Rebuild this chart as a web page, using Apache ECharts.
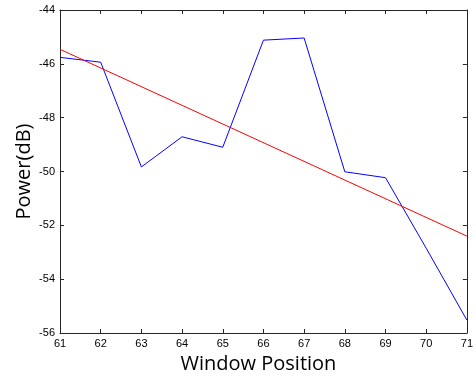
<!DOCTYPE html>
<html lang="en">

<head>
    <meta charset="UTF-8">
    <title>Power vs Window Position</title>
    <style>
        html, body { margin: 0; padding: 0; background: #fff; }
        .box { width: 476px; height: 380px; }
    </style>
    <script src="https://cdn.jsdelivr.net/npm/echarts@6/dist/echarts.min.js"></script>
</head>

<body>
    <div class="box"></div>
    <script>
        // data
        const windowPos = [61, 62, 63, 64, 65, 66, 67, 68, 69, 70, 71];
        const powerDb = [-45.76, -45.94, -49.83, -48.71, -49.10, -45.12, -45.04, -50.01, -50.23, -52.85, -55.52];
        const fitX = [61, 71];
        const fitY = [-45.46, -52.40];
        const xTicks = [61, 62, 63, 64, 65, 66, 67, 68, 69, 70, 71];
        const yTicks = [-56, -54, -52, -50, -48, -46, -44];

        const axisColor = '#262626';
        const tickFont = { fontFamily: 'Liberation Sans', fontSize: 11, color: '#000' };
        const nameFont = { fontFamily: 'Open Sans', fontSize: 20, color: '#000' };

        function frameAxis(show) {
            return {
                type: 'value',
                axisLine: { show: true, onZero: false, lineStyle: { color: axisColor, width: 1 } },
                axisTick: { show: true, inside: true, length: 4, lineStyle: { color: axisColor } },
                axisLabel: { show: show },
                splitLine: { show: false }
            };
        }

        const chart = echarts.init(document.querySelector('.box'));

        const x0 = Object.assign(frameAxis(true), {
            min: xTicks[0], max: xTicks[xTicks.length - 1], interval: 1,
            position: 'bottom',
            axisLabel: Object.assign({ margin: 5 }, tickFont),
            name: 'Window Position', nameLocation: 'middle', nameGap: 21,
            nameTextStyle: Object.assign({ padding: [0, 10, 0, 0] }, nameFont)
        });
        const x1 = Object.assign(frameAxis(false), {
            min: xTicks[0], max: xTicks[xTicks.length - 1], interval: 1, position: 'top'
        });
        const y0 = Object.assign(frameAxis(true), {
            min: yTicks[0], max: yTicks[yTicks.length - 1], interval: 2,
            position: 'left',
            axisLabel: Object.assign({ margin: 5 }, tickFont),
            name: 'Power(dB)', nameLocation: 'middle', nameGap: 26, nameRotate: 90,
            nameMoveOverlap: false,
            nameTextStyle: nameFont
        });
        const y1 = Object.assign(frameAxis(false), {
            min: yTicks[0], max: yTicks[yTicks.length - 1], interval: 2, position: 'right'
        });

        chart.setOption({
            animation: false,
            grid: { left: 60, right: 5, top: 10, bottom: 47 },
            xAxis: [x0, x1],
            yAxis: [y0, y1],
            series: [{
                type: 'line',
                data: windowPos.map((x, i) => [x, powerDb[i]]),
                symbol: 'none',
                lineStyle: { color: '#0000ff', width: 1 }
            }, {
                type: 'line',
                data: fitX.map((x, i) => [x, fitY[i]]),
                symbol: 'none',
                lineStyle: { color: '#ff0000', width: 1 }
            }]
        });
    </script>
</body>

</html>
